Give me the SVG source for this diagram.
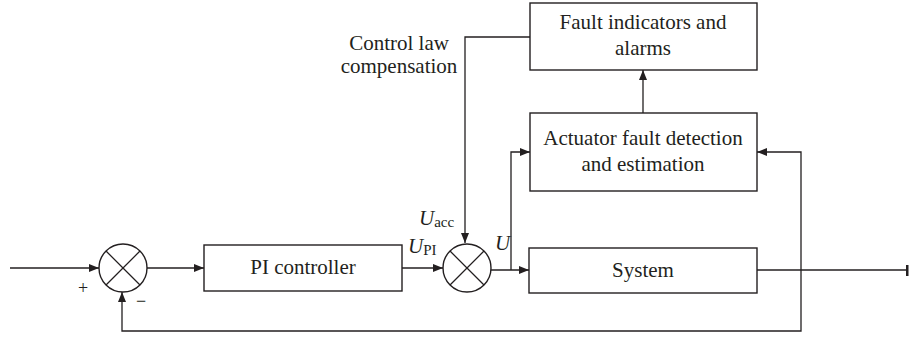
<svg xmlns="http://www.w3.org/2000/svg" width="910" height="339" viewBox="0 0 910 339">
<style>
.box{fill:#fff;stroke:#231f20;stroke-width:1.4}
.ln{fill:none;stroke:#231f20;stroke-width:1.3}
.t{font-family:"Liberation Serif","Times New Roman",serif;font-size:21px;fill:#231f20}
.c{text-anchor:middle}
.i{font-style:italic}
.s{font-size:15px;font-style:normal}
.pm{font-size:18px;text-anchor:middle}
</style>
<defs>
<marker id="ah" viewBox="0 0 10 10" refX="10" refY="5" markerWidth="10" markerHeight="10" markerUnits="userSpaceOnUse" orient="auto">
<path d="M0,1 L10,5 L0,9 Z" fill="#231f20"/>
</marker>
</defs>
<g id="connectors">
<path class="ln" d="M10,268 H99" marker-end="url(#ah)"/>
<path class="ln" d="M147,268 H204" marker-end="url(#ah)"/>
<path class="ln" d="M402,268 H443" marker-end="url(#ah)"/>
<path class="ln" d="M491,270 H529" marker-end="url(#ah)"/>
<path class="ln" d="M757,270 H908"/>
<rect x="906" y="265" width="2.5" height="11" fill="#231f20"/>
<path class="ln" d="M511,270 V152 H530" marker-end="url(#ah)"/>
<path class="ln" d="M801,270 V152 H757" marker-end="url(#ah)"/>
<path class="ln" d="M801,270 V331 H122 V292" marker-end="url(#ah)"/>
<path class="ln" d="M530,37 H465 V243" marker-end="url(#ah)"/>
<path class="ln" d="M643,113 V70" marker-end="url(#ah)"/>
</g>
<g id="sum1">
<circle class="box" cx="123" cy="268" r="24"/>
<path class="ln" d="M106,251 L140,285 M140,251 L106,285"/>
<text class="t pm" x="83" y="294">+</text>
<text class="t pm" x="141" y="307">−</text>
</g>
<g id="pi">
<rect class="box" x="204" y="245" width="198" height="46"/>
<text class="t c" x="303" y="274">PI controller</text>
</g>
<g id="sum2">
<circle class="box" cx="467" cy="268" r="24"/>
<path class="ln" d="M450,251 L484,285 M484,251 L450,285"/>
<text class="t i" x="408" y="253">U<tspan class="s" dy="2">PI</tspan></text>
<text class="t i" x="419" y="225">U<tspan class="s" dy="2">acc</tspan></text>
<text class="t i" x="495" y="250">U</text>
</g>
<g id="system">
<rect class="box" x="529" y="248" width="228" height="45"/>
<text class="t c" x="643" y="277">System</text>
</g>
<g id="actuator">
<rect class="box" x="530" y="113" width="227" height="78"/>
<text class="t c" x="643" y="145">Actuator fault detection</text>
<text class="t c" x="643" y="171">and estimation</text>
</g>
<g id="fault">
<rect class="box" x="530" y="3" width="227" height="67"/>
<text class="t c" x="643" y="29">Fault indicators and</text>
<text class="t c" x="643" y="55">alarms</text>
</g>
<g id="label">
<text class="t c" x="399" y="50">Control law</text>
<text class="t c" x="399" y="73">compensation</text>
</g>
</svg>
